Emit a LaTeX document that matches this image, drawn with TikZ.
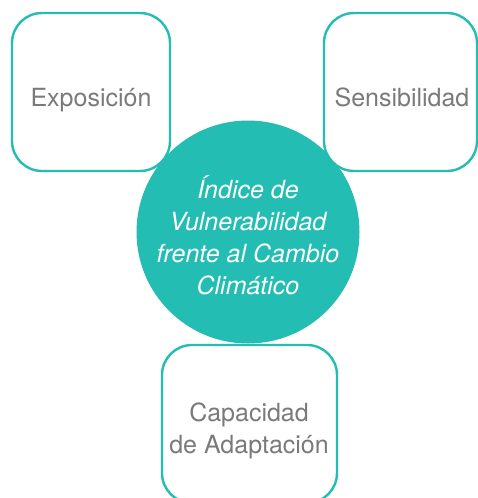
\documentclass[tikz,border=0pt]{standalone}
\usepackage{fontspec}
\setmainfont{TeX Gyre Heros}
\definecolor{teal1}{HTML}{24BDB3}
\definecolor{txtgray}{HTML}{7A7A7A}
\begin{document}
\begin{tikzpicture}[x=1pt,y=-1pt,
  box/.style={draw=teal1,line width=2.4pt,fill=white,rounded corners=30pt},
  lbl/.style={text=txtgray,font=\fontsize{25}{32}\selectfont,align=center,anchor=base,inner sep=0pt},
  ctr/.style={text=white,font=\fontsize{25}{32}\selectfont\itshape,align=center,anchor=base,inner sep=0pt}]
\useasboundingbox (0,0) rectangle (478,498);
\fill[teal1] (248,232) circle[radius=111.5];
\draw[box] (12,13) rectangle (170,171);
\draw[box] (324,13) rectangle (477,171);
\draw[box] (162,345) rectangle (337,503);
\node[ctr] (c) at (248,294) {Índice de\\Vulnerabilidad\\frente al Cambio\\Climático};
\node[lbl] (e) at (91,106) {Exposición};
\node[lbl] (s) at (402,106) {Sensibilidad};
\node[lbl] (a) at (249,453) {Capacidad\\de Adaptación};
\end{tikzpicture}
\end{document}
